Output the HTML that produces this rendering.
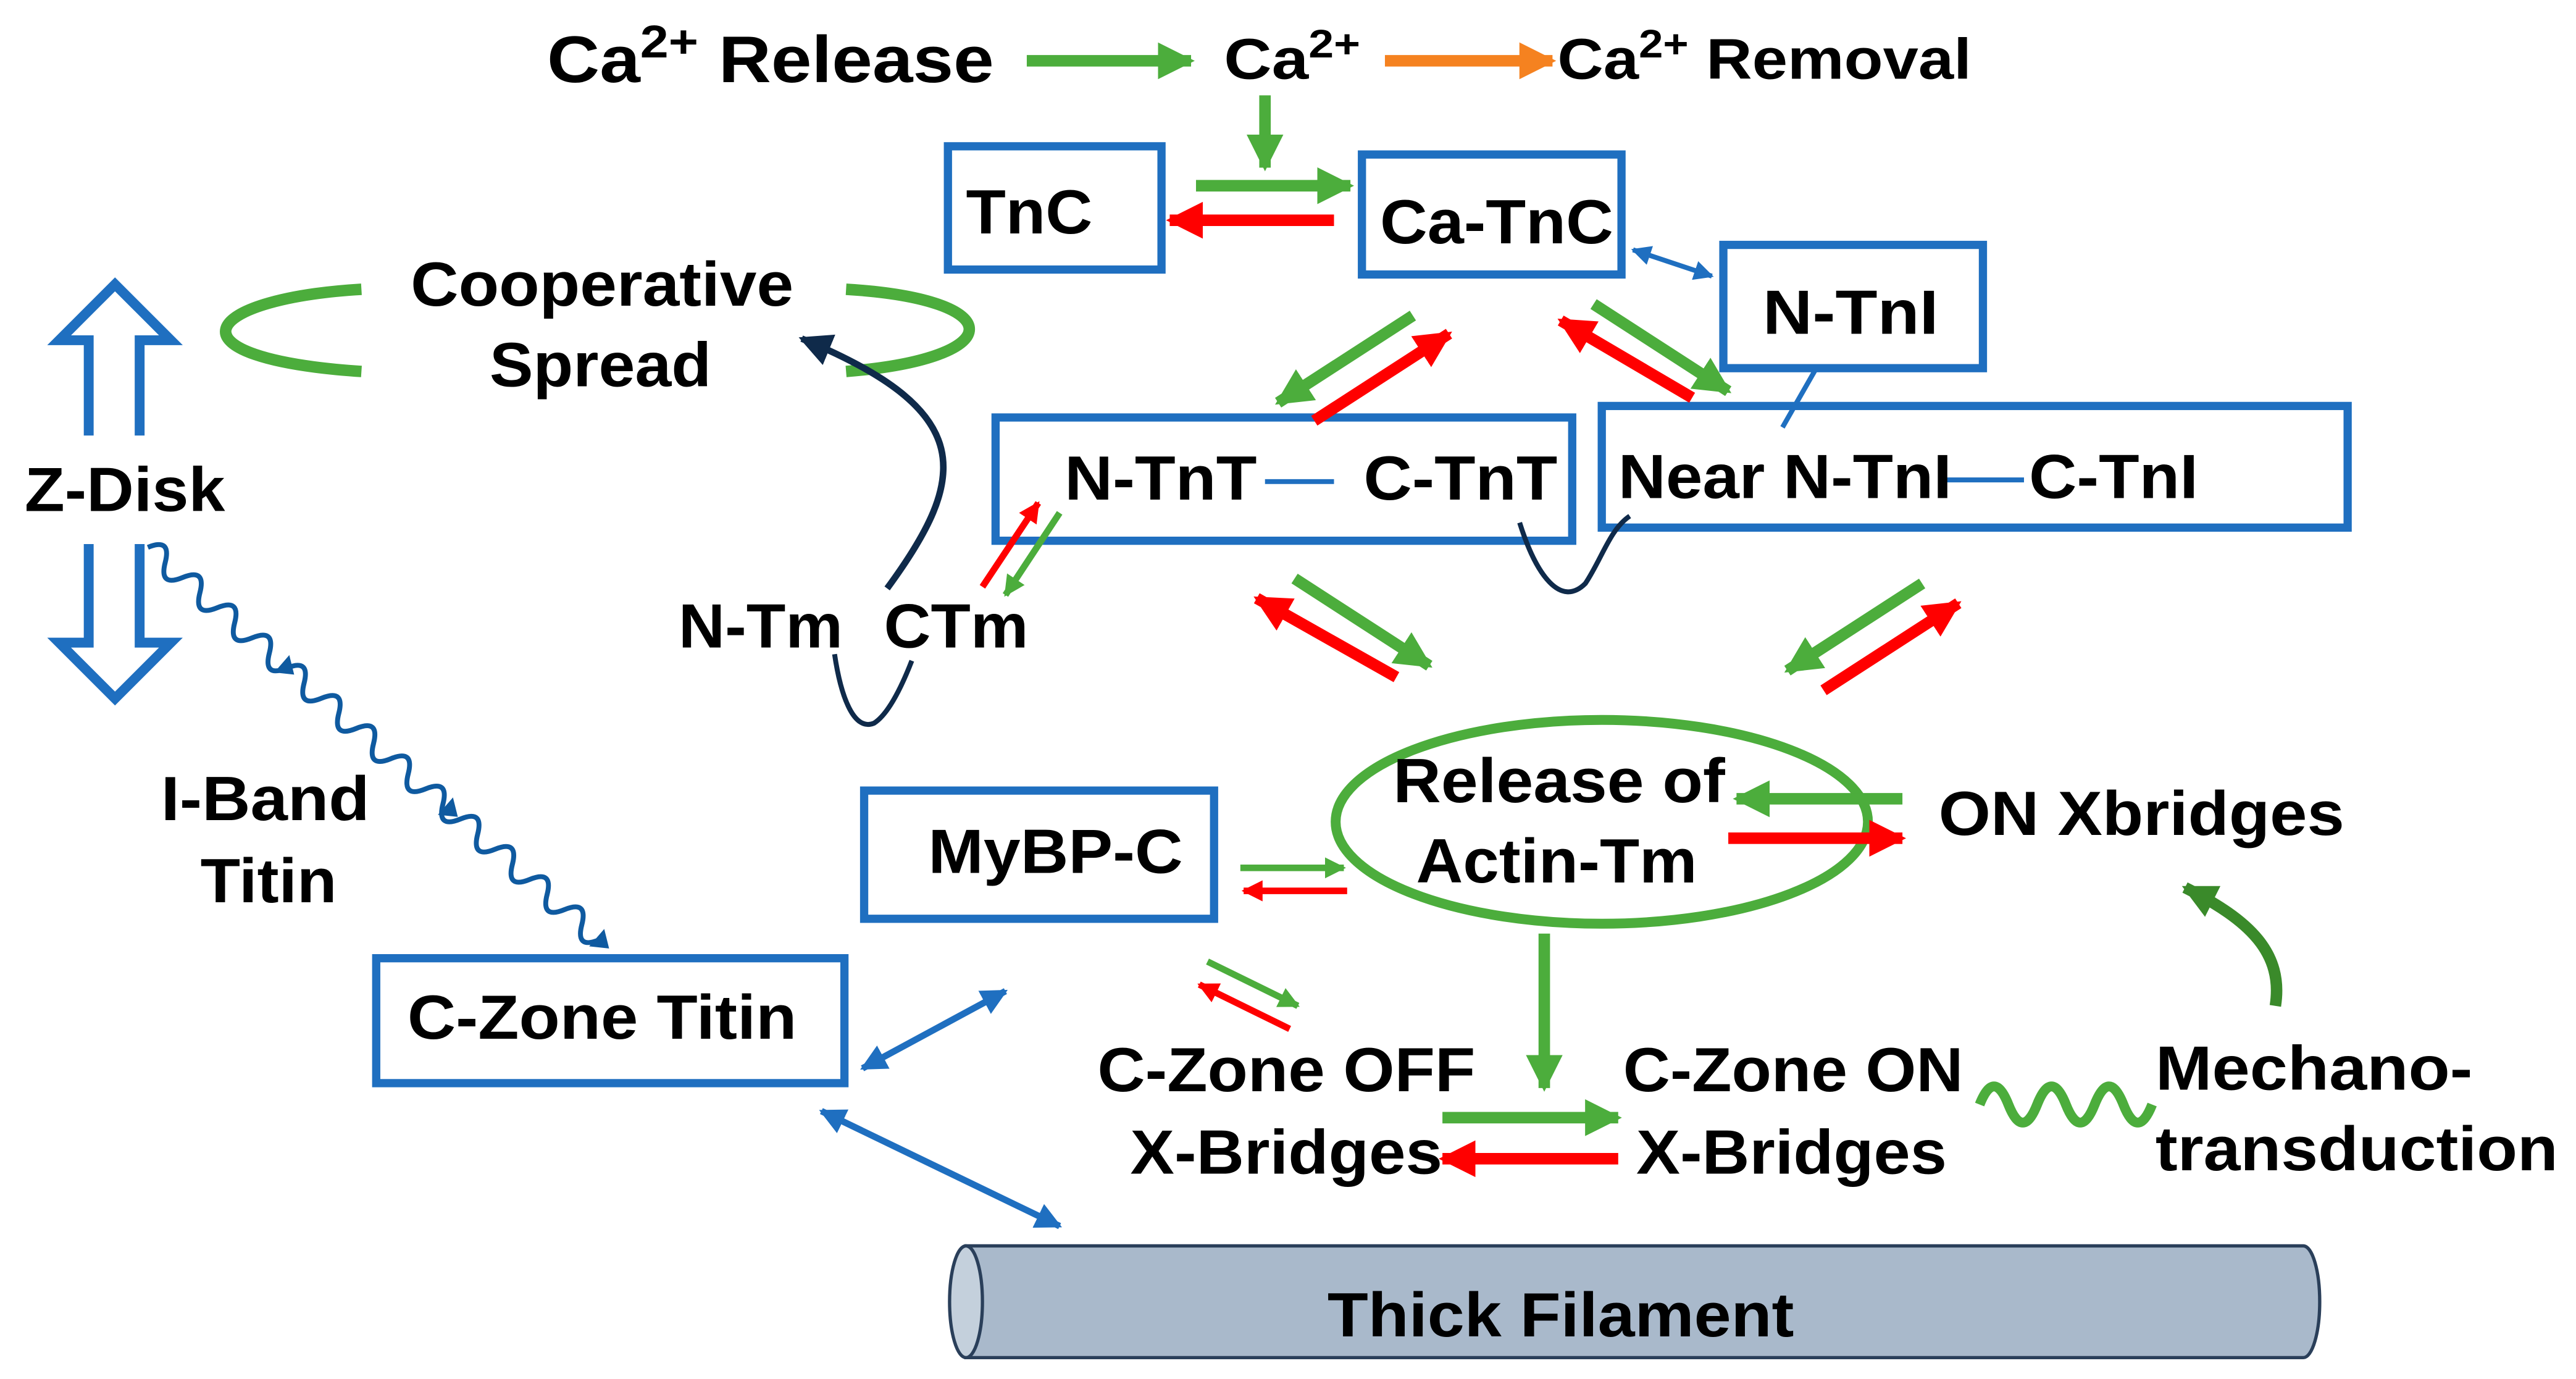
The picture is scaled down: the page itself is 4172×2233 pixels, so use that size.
<!DOCTYPE html>
<html><head><meta charset="utf-8"><style>html,body{margin:0;padding:0;background:#fff}svg{display:block}
text{font-family:"Liberation Sans",Arial,sans-serif;font-weight:bold;fill:#000}</style></head><body>
<svg width="4172" height="2233" viewBox="0 0 1568 839" preserveAspectRatio="none" xmlns="http://www.w3.org/2000/svg">
<defs>
<marker id="mg" viewBox="0 0 10 10" refX="9" refY="5" markerWidth="3.2" markerHeight="3.2" orient="auto" markerUnits="strokeWidth"><path d="M0,0L10,5L0,10z" fill="#4cad3c"/></marker>
<marker id="mr" viewBox="0 0 10 10" refX="9" refY="5" markerWidth="3.2" markerHeight="3.2" orient="auto" markerUnits="strokeWidth"><path d="M0,0L10,5L0,10z" fill="#f00"/></marker>
<marker id="mo" viewBox="0 0 10 10" refX="9" refY="5" markerWidth="3.2" markerHeight="3.2" orient="auto" markerUnits="strokeWidth"><path d="M0,0L10,5L0,10z" fill="#f58220"/></marker>
<marker id="mb" viewBox="0 0 10 10" refX="9" refY="5" markerWidth="4" markerHeight="4" orient="auto-start-reverse" markerUnits="strokeWidth"><path d="M0,0L10,5L0,10z" fill="#1f6fc0"/></marker>
<marker id="mn" viewBox="0 0 10 10" refX="9" refY="5" markerWidth="5" markerHeight="5" orient="auto" markerUnits="strokeWidth"><path d="M0,0L10,5L0,10z" fill="#0f2a4a"/></marker>
<marker id="mdg" viewBox="0 0 10 10" refX="9" refY="5" markerWidth="3" markerHeight="3" orient="auto" markerUnits="strokeWidth"><path d="M0,0L10,5L0,10z" fill="#3a8a2a"/></marker>
</defs>
<g stroke-linecap="butt" fill="none">
<line x1="625" y1="37" x2="725" y2="37" stroke="#4cad3c" stroke-width="7" marker-end="url(#mg)"/>
<line x1="843" y1="37" x2="945" y2="37" stroke="#f58220" stroke-width="7" marker-end="url(#mo)"/>
<line x1="770" y1="58" x2="770" y2="102" stroke="#4cad3c" stroke-width="7" marker-end="url(#mg)"/>
<line x1="728" y1="113" x2="822" y2="113" stroke="#4cad3c" stroke-width="7" marker-end="url(#mg)"/>
<line x1="812" y1="134" x2="712" y2="134" stroke="#f00" stroke-width="7" marker-end="url(#mr)"/>
<line x1="994" y1="152" x2="1042" y2="168" stroke="#1f6fc0" stroke-width="3" marker-start="url(#mb)" marker-end="url(#mb)"/>
<g stroke="#1f6fc0" stroke-width="5">
<rect x="577" y="89" width="130" height="75"/>
<rect x="829" y="94" width="158" height="73"/>
<rect x="1049" y="149" width="158" height="75"/>
<rect x="606" y="254" width="351" height="75"/>
<rect x="975" y="247" width="454" height="74"/>
<rect x="526" y="481" width="213" height="78"/>
<rect x="229" y="583" width="285" height="76"/>
</g>
<line x1="1105" y1="225" x2="1085" y2="260" stroke="#1f6fc0" stroke-width="3"/>
<line x1="770" y1="293" x2="812" y2="293" stroke="#1f6fc0" stroke-width="3"/>
<line x1="1185" y1="292" x2="1232" y2="292" stroke="#1f6fc0" stroke-width="3"/>
<path d="M220,176 C120,182 100,218 220,226" stroke="#4cad3c" stroke-width="7"/>
<path d="M515,176 C615,182 615,218 515,226" stroke="#4cad3c" stroke-width="7"/>
<path d="M54,265 V207 H36 L70,173 L104,207 H85 V265" stroke="#1f6fc0" stroke-width="6"/>
<path d="M54,331 V391 H36 L70,425 L104,391 H85 V331" stroke="#1f6fc0" stroke-width="6"/>
<line x1="860" y1="192" x2="778" y2="245" stroke="#4cad3c" stroke-width="7" marker-end="url(#mg)"/>
<line x1="800" y1="256" x2="882" y2="203" stroke="#f00" stroke-width="7" marker-end="url(#mr)"/>
<line x1="1030" y1="242" x2="950" y2="195" stroke="#f00" stroke-width="7" marker-end="url(#mr)"/>
<line x1="970" y1="185" x2="1052" y2="238" stroke="#4cad3c" stroke-width="7" marker-end="url(#mg)"/>
<path d="M925,318 C935,350 950,370 965,355 C975,340 980,322 992,314" stroke="#0f2a4a" stroke-width="3"/>
<path d="M508,398 C512,425 520,445 532,440 C540,435 548,420 555,402" stroke="#0f2a4a" stroke-width="3"/>
<path d="M540,358 C590,290 595,250 488,206" stroke="#0f2a4a" stroke-width="4" marker-end="url(#mn)"/>
<line x1="598" y1="357" x2="632" y2="306" stroke="#f00" stroke-width="4" marker-end="url(#mr)"/>
<line x1="645" y1="312" x2="612" y2="362" stroke="#4cad3c" stroke-width="4" marker-end="url(#mg)"/>
<line x1="850" y1="412" x2="765" y2="364" stroke="#f00" stroke-width="7" marker-end="url(#mr)"/>
<line x1="788" y1="352" x2="870" y2="405" stroke="#4cad3c" stroke-width="7" marker-end="url(#mg)"/>
<line x1="1170" y1="355" x2="1088" y2="408" stroke="#4cad3c" stroke-width="7" marker-end="url(#mg)"/>
<line x1="1110" y1="420" x2="1192" y2="367" stroke="#f00" stroke-width="7" marker-end="url(#mr)"/>
<ellipse cx="975" cy="500" rx="162" ry="62" stroke="#4cad3c" stroke-width="6"/>
<line x1="1158" y1="486" x2="1057" y2="486" stroke="#4cad3c" stroke-width="7" marker-end="url(#mg)"/>
<line x1="1052" y1="510" x2="1158" y2="510" stroke="#f00" stroke-width="7" marker-end="url(#mr)"/>
<line x1="755" y1="528" x2="818" y2="528" stroke="#4cad3c" stroke-width="4" marker-end="url(#mg)"/>
<line x1="820" y1="542" x2="757" y2="542" stroke="#f00" stroke-width="4" marker-end="url(#mr)"/>
<line x1="735" y1="585" x2="790" y2="612" stroke="#4cad3c" stroke-width="4" marker-end="url(#mg)"/>
<line x1="785" y1="626" x2="730" y2="599" stroke="#f00" stroke-width="4" marker-end="url(#mr)"/>
<path d="M1385,612 C1390,580 1370,560 1330,540" stroke="#3a8a2a" stroke-width="7" marker-end="url(#mdg)"/>
<line x1="940" y1="568" x2="940" y2="662" stroke="#4cad3c" stroke-width="7" marker-end="url(#mg)"/>
<line x1="878" y1="680" x2="985" y2="680" stroke="#4cad3c" stroke-width="7" marker-end="url(#mg)"/>
<line x1="985" y1="705" x2="878" y2="705" stroke="#f00" stroke-width="7" marker-end="url(#mr)"/>
<path d="M1205,672 q8.75,-22 17.5,0 t17.5,0 t17.5,0 t17.5,0 t17.5,0 t17.5,0" stroke="#4cad3c" stroke-width="6"/>
<line x1="525" y1="650" x2="612" y2="603" stroke="#1f6fc0" stroke-width="4" marker-start="url(#mb)" marker-end="url(#mb)"/>
<line x1="500" y1="676" x2="645" y2="746" stroke="#1f6fc0" stroke-width="4" marker-start="url(#mb)" marker-end="url(#mb)"/>
<g transform="translate(90,333) rotate(41)" stroke="#0f5aa0" stroke-width="3">
<path d="M0,0 q7,-14 14,0 t14,0 t14,0 t14,0 t14,0 t14,0 t14,0 t14,0 t14,0 t14,0 t14,0 t14,0 t14,0 t14,0 t14,0 t14,0 t14,0 t14,0 t14,0 t14,0 t14,0 t14,0 t14,0 t14,0 t14,0 t14,0"/>
<path d="M118,0 l-10,-7 v14z M250,0 l-10,-7 v14z M372,0 l-10,-7 v14z" fill="#0f5aa0" stroke="none"/>
</g>
<path d="M588,758 H1402 A10,34 0 0 1 1402,826 H588 Z" fill="#a9b9cb" stroke="#2a3f5a" stroke-width="2"/>
<ellipse cx="588" cy="792" rx="10" ry="34" fill="#c4d0dc" stroke="#2a3f5a" stroke-width="2"/>
</g>
<text x="333" y="50" font-size="40" textLength="272" lengthAdjust="spacingAndGlyphs">Ca<tspan font-size="28" dy="-15">2+</tspan><tspan dy="15"> Release</tspan></text>
<text x="745" y="48" font-size="35" textLength="83" lengthAdjust="spacingAndGlyphs">Ca<tspan font-size="24" dy="-13">2+</tspan></text>
<text x="948" y="48" font-size="35" textLength="252" lengthAdjust="spacingAndGlyphs">Ca<tspan font-size="24" dy="-13">2+</tspan><tspan dy="13"> Removal</tspan></text>
<g font-size="38" lengthAdjust="spacingAndGlyphs">
<text x="588" y="142" textLength="77" lengthAdjust="spacingAndGlyphs">TnC</text>
<text x="840" y="148" textLength="142" lengthAdjust="spacingAndGlyphs">Ca-TnC</text>
<text x="1073" y="203" textLength="107" lengthAdjust="spacingAndGlyphs">N-TnI</text>
<text x="250" y="186" textLength="233" lengthAdjust="spacingAndGlyphs">Cooperative</text>
<text x="298" y="235" textLength="135" lengthAdjust="spacingAndGlyphs">Spread</text>
<text x="15" y="311" textLength="122" lengthAdjust="spacingAndGlyphs">Z-Disk</text>
<text x="648" y="304" textLength="117" lengthAdjust="spacingAndGlyphs">N-TnT</text>
<text x="830" y="304" textLength="118" lengthAdjust="spacingAndGlyphs">C-TnT</text>
<text x="985" y="303" textLength="203" lengthAdjust="spacingAndGlyphs">Near N-TnI</text>
<text x="1235" y="303" textLength="103" lengthAdjust="spacingAndGlyphs">C-TnI</text>
<text x="413" y="394" textLength="100" lengthAdjust="spacingAndGlyphs">N-Tm</text>
<text x="538" y="394" textLength="88" lengthAdjust="spacingAndGlyphs">CTm</text>
<text x="98" y="499" textLength="127" lengthAdjust="spacingAndGlyphs">I-Band</text>
<text x="122" y="549" textLength="83" lengthAdjust="spacingAndGlyphs">Titin</text>
<text x="848" y="488" textLength="202" lengthAdjust="spacingAndGlyphs">Release of</text>
<text x="862" y="537" textLength="171" lengthAdjust="spacingAndGlyphs">Actin-Tm</text>
<text x="1180" y="508" textLength="247" lengthAdjust="spacingAndGlyphs">ON Xbridges</text>
<text x="565" y="531" textLength="155" lengthAdjust="spacingAndGlyphs">MyBP-C</text>
<text x="248" y="632" textLength="237" lengthAdjust="spacingAndGlyphs">C-Zone Titin</text>
<text x="668" y="664" textLength="230" lengthAdjust="spacingAndGlyphs">C-Zone OFF</text>
<text x="688" y="714" textLength="190" lengthAdjust="spacingAndGlyphs">X-Bridges</text>
<text x="988" y="664" textLength="207" lengthAdjust="spacingAndGlyphs">C-Zone ON</text>
<text x="996" y="714" textLength="189" lengthAdjust="spacingAndGlyphs">X-Bridges</text>
<text x="1312" y="663" textLength="193" lengthAdjust="spacingAndGlyphs">Mechano-</text>
<text x="1312" y="712" textLength="245" lengthAdjust="spacingAndGlyphs">transduction</text>
<text x="808" y="813" textLength="284" lengthAdjust="spacingAndGlyphs">Thick Filament</text>
</g>
</svg>
</body></html>
